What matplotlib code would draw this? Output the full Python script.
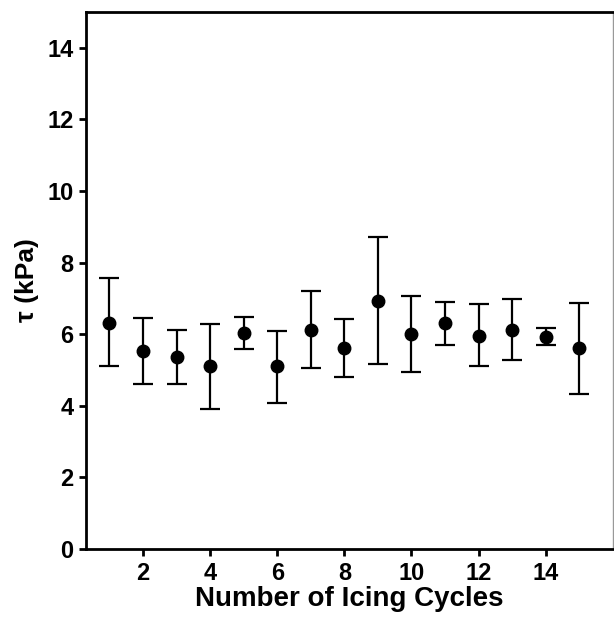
import matplotlib.pyplot as plt
import numpy as np

# -------------------------------
# Data
# -------------------------------
cycles = [1, 2, 3, 4, 5, 6, 7, 8, 9, 10, 11, 12, 13, 14, 15]
tau_mean = [6.32, 5.52, 5.36, 5.10, 6.03, 5.10, 6.13, 5.61, 6.93, 6.00, 6.30, 5.96, 6.13, 5.93, 5.60]
tau_upper = [7.57, 6.45, 6.13, 6.29, 6.48, 6.09, 7.21, 6.41, 8.71, 7.06, 6.89, 6.84, 6.98, 6.17, 6.87]
tau_lower = [5.11, 4.62, 4.62, 3.91, 5.59, 4.09, 5.06, 4.81, 5.17, 4.95, 5.71, 5.10, 5.29, 5.69, 4.33]

x_ticks = [2, 4, 6, 8, 10, 12, 14]
y_ticks = [0, 2, 4, 6, 8, 10, 12, 14]

plt.rcParams["font.family"] = ["Liberation Sans", "DejaVu Sans"]
plt.rcParams["font.weight"] = "bold"

mean = np.array(tau_mean)
yerr = [mean - np.array(tau_lower), np.array(tau_upper) - mean]

fig = plt.figure(figsize=(6.14, 6.17), dpi=100)
ax = fig.add_axes([0.140, 0.110, 0.858, 0.871])

ax.errorbar(cycles, tau_mean, yerr=yerr, fmt="o", color="black",
            markersize=9, elinewidth=1.6, capsize=7.5, capthick=1.6)

ax.set_xlim(0.3, 16)
ax.set_ylim(0, 15)
ax.set_xticks(x_ticks)
ax.set_yticks(y_ticks)

ax.set_xlabel("Number of Icing Cycles", fontsize=20, fontweight="bold", labelpad=1)
ax.set_ylabel("τ (kPa)", fontsize=19, fontweight="bold", labelpad=6)

ax.tick_params(axis="both", direction="out", length=5, width=2, labelsize=17, pad=4)
for lbl in ax.get_xticklabels() + ax.get_yticklabels():
    lbl.set_fontweight("bold")

for side in ["left", "bottom", "top"]:
    ax.spines[side].set_linewidth(2)
    ax.spines[side].set_color("black")
ax.spines["right"].set_linewidth(1)
ax.spines["right"].set_color("#999999")

fig.savefig("out.png", dpi=100)
